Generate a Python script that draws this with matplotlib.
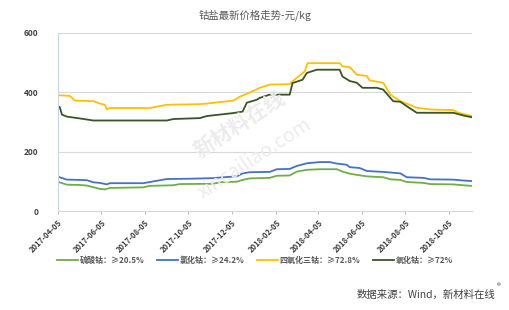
import numpy as np
import matplotlib
matplotlib.use("Agg")
import matplotlib.pyplot as plt
import matplotlib.dates as mdates

plt.rcParams['font.family'] = ['Noto Sans CJK SC', 'DejaVu Sans']

# ---------------------------------------------------------------------------
# data (yuan/kg)
# ---------------------------------------------------------------------------
labels = ["硫酸钴：≥20.5%", "氯化钴：≥24.2%", "四氧化三钴：≥72.8%", "氧化钴：≥72%"]
colors = ["#70AD47", "#4472C4", "#FFC000", "#375623"]

cs_dates = ["2017-04-05", "2017-04-18", "2017-05-06", "2017-05-16", "2017-06-03", "2017-06-10",
            "2017-06-17", "2017-08-03", "2017-08-12", "2017-09-14", "2017-09-23", "2017-11-09",
            "2017-11-18", "2017-12-12", "2017-12-20", "2017-12-30", "2018-01-27", "2018-02-06",
            "2018-02-24", "2018-03-06", "2018-03-20", "2018-04-07", "2018-05-01", "2018-05-09",
            "2018-05-19", "2018-05-29", "2018-06-12", "2018-07-05", "2018-07-15", "2018-07-29",
            "2018-08-07", "2018-08-30", "2018-09-09", "2018-10-11", "2018-10-25", "2018-11-06"]
cs_vals = [99, 89, 88, 86, 75, 73, 78, 80, 85, 87, 91, 92, 97, 99, 105, 110, 112, 119,
           120, 133, 139, 141, 141, 133, 126, 122, 117, 114, 107, 105, 98, 95, 91, 90, 87, 85]

cc_dates = ["2017-04-05", "2017-04-18", "2017-05-06", "2017-05-16", "2017-05-25", "2017-06-03",
            "2017-06-13", "2017-06-17", "2017-08-03", "2017-08-17", "2017-09-05", "2017-10-07",
            "2017-11-09", "2017-11-18", "2017-12-12", "2017-12-20", "2017-12-30", "2018-01-27",
            "2018-02-06", "2018-02-24", "2018-03-06", "2018-03-20", "2018-04-07", "2018-04-21",
            "2018-05-01", "2018-05-15", "2018-05-19", "2018-06-02", "2018-06-12", "2018-07-05",
            "2018-07-29", "2018-08-07", "2018-08-30", "2018-09-09", "2018-10-11", "2018-10-25",
            "2018-11-06"]
cc_vals = [116, 106, 105, 104, 97, 95, 90, 94, 94, 100, 108, 109, 111, 113, 117, 127, 131,
           132, 141, 142, 152, 161, 165, 165, 160, 156, 148, 145, 135, 132, 127, 114, 112,
           107, 106, 103, 101]

co3_dates = ["2017-04-05", "2017-04-22", "2017-04-29", "2017-05-25", "2017-06-03", "2017-06-10",
             "2017-06-13", "2017-06-17", "2017-08-12", "2017-09-05", "2017-10-21", "2017-10-31",
             "2017-12-07", "2017-12-16", "2017-12-26", "2018-01-09", "2018-01-13", "2018-01-27",
             "2018-02-24", "2018-02-28", "2018-03-17", "2018-03-21", "2018-05-05", "2018-05-09",
             "2018-05-19", "2018-05-29", "2018-06-12", "2018-06-16", "2018-07-05", "2018-07-15",
             "2018-07-29", "2018-08-21", "2018-09-09", "2018-10-11", "2018-10-18", "2018-11-06"]
co3_vals = [390, 388, 372, 370, 362, 358, 342, 347, 347, 358, 360, 362, 372, 385, 395, 410,
            415, 426, 427, 437, 470, 498, 498, 487, 485, 459, 455, 440, 432, 392, 370, 348,
            342, 340, 331, 320]

co_dates = ["2017-04-05", "2017-04-08", "2017-04-11", "2017-04-18", "2017-05-06", "2017-05-25",
            "2017-09-05", "2017-09-14", "2017-10-21", "2017-10-31", "2017-12-07", "2017-12-20",
            "2017-12-26", "2018-01-09", "2018-01-13", "2018-01-27", "2018-02-24", "2018-02-28",
            "2018-03-14", "2018-03-20", "2018-04-03", "2018-05-05", "2018-05-09", "2018-05-19",
            "2018-05-29", "2018-06-06", "2018-06-26", "2018-07-05", "2018-07-15", "2018-07-19",
            "2018-07-29", "2018-08-07", "2018-08-21", "2018-10-11", "2018-10-25", "2018-11-06"]
co_vals = [352, 350, 325, 318, 312, 305, 305, 310, 313, 320, 330, 335, 365, 375, 381, 392,
           392, 431, 442, 465, 476, 476, 453, 438, 432, 415, 415, 409, 381, 370, 368, 353,
           331, 331, 322, 316]

yticks = [0, 200, 400, 600]

series = [(cs_dates, cs_vals), (cc_dates, cc_vals), (co3_dates, co3_vals), (co_dates, co_vals)]

# ---------------------------------------------------------------------------
fig = plt.figure(figsize=(5.1, 3.1), dpi=100)
ax = fig.add_axes([0.113, 0.319, 0.812, 0.575])

for (d, v), lab, c in zip(series, labels, colors):
    ax.plot(np.array(d, dtype="datetime64[D]"), v, color=c, lw=1.3, label=lab)

ax.set_xlim(np.datetime64("2017-04-05"), np.datetime64("2018-11-06"))
ax.set_ylim(0, 600)
ax.set_yticks(yticks)
ax.tick_params(axis='y', length=0, labelsize=6, labelcolor="#404040", pad=14)
for t in ax.get_yticklabels():
    t.set_fontweight("bold")

xt = np.arange(np.datetime64("2017-04"), np.datetime64("2018-11"), 2) + np.timedelta64(4, "D")
ax.set_xticks(xt.astype("datetime64[D]"))
ax.xaxis.set_major_formatter(mdates.DateFormatter("%Y-%m-%d"))
ax.tick_params(axis='x', length=2, color="#bfbfbf", labelsize=5.5, labelcolor="#404040")
for t in ax.get_xticklabels():
    t.set_rotation(45)
    t.set_ha("right")
    t.set_rotation_mode("anchor")
    t.set_fontweight("bold")

ax.grid(axis='y', color="#d9d9d9", lw=0.8)
ax.set_axisbelow(True)
for s in ["top", "right"]:
    ax.spines[s].set_visible(False)
ax.spines["left"].set_color("#c8d4e0")
ax.spines["bottom"].set_color("#d9d9d9")

fig.text(0.5, 0.952, "钴盐最新价格走势-元/kg", ha="center", va="center",
         fontsize=7.5, color="#595959")

leg = fig.legend(loc="center", bbox_to_anchor=(0.5, 0.161), ncol=4, frameon=False,
                 fontsize=5.8, handlelength=2.6, handletextpad=0.2, columnspacing=1.6)
for t in leg.get_texts():
    t.set_color("#595959")
    t.set_fontweight("bold")

# watermark
fig.text(0.47, 0.6, "新材料在线", rotation=33, fontsize=15, color="#ececec",
         ha="center", va="center", fontweight="bold", zorder=0)
fig.text(0.5, 0.49, "xincailiao.com", rotation=33, fontsize=14, color="#ececec",
         ha="center", va="center", zorder=0)

fig.text(0.972, 0.048, "数据来源：Wind，新材料在线", ha="right", va="center",
         fontsize=7.5, color="#404040")
fig.text(0.975, 0.075, "®", ha="left", va="center", fontsize=5.5, color="#404040")

fig.savefig("out.png", dpi=100)
